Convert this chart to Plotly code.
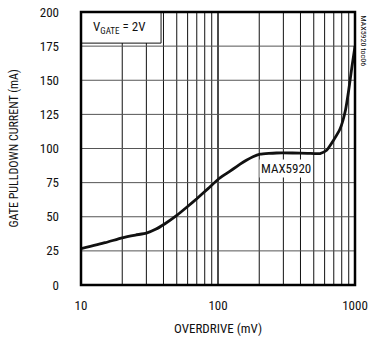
import plotly.graph_objects as go

# Overdrive (mV) vs gate pulldown current (mA), VGATE = 2V
overdrive_mv = [10, 15, 20, 25, 30, 35, 41, 50, 60, 70, 85, 100, 115, 129, 145, 161, 180, 203,
                235, 267, 350, 450, 556, 621, 697, 780, 852, 900, 950, 1000]
pulldown_ma = [26.6, 31.0, 34.6, 36.6, 38.0, 40.8, 44.9, 51.0, 57.5, 63.2, 70.8, 77.3, 81.6,
               85.0, 88.5, 91.4, 94.0, 95.8, 96.4, 96.7, 96.7, 96.5, 96.3, 98.7, 106.0,
               114.6, 128.0, 142.8, 160.0, 175.0]

x_ticks = [10, 100, 1000]
y_ticks = [0, 25, 50, 75, 100, 125, 150, 175, 200]
x_grid = [v * m for m in (10, 100) for v in range(1, 11)]

FONT = "Liberation Sans Narrow, Arial Narrow, Roboto Condensed, Liberation Sans, Arial, sans-serif"

fig = go.Figure()
fig.add_trace(go.Scatter(
    x=overdrive_mv, y=pulldown_ma, mode="lines",
    line=dict(color="#111111", width=2.8, shape="spline", smoothing=0.5),
    hoverinfo="skip", showlegend=False,
))

shapes = []
# vertical log grid lines
for gx in x_grid:
    shapes.append(dict(type="line", xref="x", yref="paper", x0=gx, x1=gx, y0=0, y1=1,
                       line=dict(color="#111111", width=1), layer="below"))
# horizontal grid lines
for gy in y_ticks:
    shapes.append(dict(type="line", xref="paper", yref="y", x0=0, x1=1, y0=gy, y1=gy,
                       line=dict(color="#555555", width=1), layer="below"))
# condition label box
shapes.append(dict(type="rect", xref="x", yref="y", x0=10, x1=38.4, y0=177.2, y1=200,
                   fillcolor="white", line=dict(color="#111111", width=1), layer="above"))
# frame
shapes.append(dict(type="rect", xref="paper", yref="paper", x0=0, x1=1, y0=0, y1=1,
                   line=dict(color="#000000", width=2.5), layer="above"))

annotations = [
    dict(x=1.28, y=188.6, xref="x", yref="y", text="V<sub>GATE</sub> = 2V", showarrow=False,
         font=dict(family=FONT, size=13, color="#111111"), xanchor="center", yanchor="middle"),
    dict(x=2.495, y=85.5, xref="x", yref="y", text="MAX5920", showarrow=False,
         font=dict(family=FONT, size=13, color="#111111"), bgcolor="white",
         xanchor="center", yanchor="middle", borderpad=1),
    dict(x=1.0, y=1.0, xref="paper", yref="paper", xshift=8, yshift=-1, text="MAX5920 toc06",
         showarrow=False, textangle=90, font=dict(family=FONT, size=8, color="#111111"),
         xanchor="center", yanchor="top"),
    # axis titles
    dict(x=0.5, y=0, xref="paper", yref="paper", yshift=-43, text="OVERDRIVE (mV)",
         showarrow=False, font=dict(family=FONT, size=13, color="#111111"),
         xanchor="center", yanchor="middle"),
    dict(x=0, y=0.5, xref="paper", yref="paper", xshift=-68, text="GATE PULLDOWN CURRENT (mA)",
         showarrow=False, textangle=-90, font=dict(family=FONT, size=12, color="#111111"),
         xanchor="center", yanchor="middle"),
]

fig.update_layout(
    width=378, height=338,
    margin=dict(l=81, r=23, t=12, b=53),
    paper_bgcolor="white", plot_bgcolor="white",
    font=dict(family=FONT, size=12, color="#111111"),
    shapes=shapes, annotations=annotations,
    xaxis=dict(type="log", range=[1, 3], tickvals=x_ticks, ticktext=[str(v) for v in x_ticks],
               showgrid=False, zeroline=False, ticks="", showline=False, ticklabelstandoff=11,
               automargin=False, tickfont=dict(family=FONT, size=13)),
    yaxis=dict(range=[0, 200], tickvals=y_ticks, showgrid=False, zeroline=False, ticks="",
               showline=False, ticklabelstandoff=21, automargin=False,
               tickfont=dict(family=FONT, size=13)),
)

fig.write_html("out.html")
